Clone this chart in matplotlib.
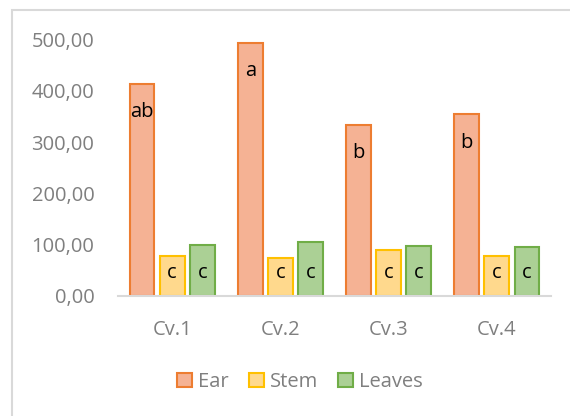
import numpy as np
import matplotlib
matplotlib.use("Agg")
import matplotlib.pyplot as plt
from matplotlib.patches import Rectangle

# data
cultivars = ["Cv.1", "Cv.2", "Cv.3", "Cv.4"]
series_names = ["Ear", "Stem", "Leaves"]
ear = [413, 494, 333, 354]
stem = [77, 75, 90, 77]
leaves = [100, 106, 98, 95]
ear_letters = ["ab", "a", "b", "b"]
stem_letters = ["c", "c", "c", "c"]
leaves_letters = ["c", "c", "c", "c"]
y_ticks = [0, 100, 200, 300, 400, 500]

fills = ["#F5B294", "#FFD98D", "#ABD095"]
edges = ["#ED7D31", "#FFC000", "#70AD47"]
grey = "#7F7F7F"

plt.rcParams["font.family"] = ["Open Sans", "DejaVu Sans"]

W, H = 570, 416
fig = plt.figure(figsize=(W / 100, H / 100), dpi=100)

# chart area border
fig.patches.append(Rectangle((12 / W, -0.1), 1.2, 1.1 - 10 / H,
                             transform=fig.transFigure, fill=False,
                             edgecolor="#D9D9D9", linewidth=1.5))

ax = fig.add_axes([118 / W, (H - 296) / H, 433 / W, 256.5 / H])

x = np.arange(len(cultivars))
width = 0.23
pitch = 0.278
all_vals = [ear, stem, leaves]
all_letters = [ear_letters, stem_letters, leaves_letters]
for i, (vals, letters) in enumerate(zip(all_vals, all_letters)):
    pos = x + (i - 1) * pitch
    ax.bar(pos, vals, width, color=fills[i], edgecolor=edges[i],
           linewidth=1.5, label=series_names[i], zorder=2)
    for p, v, t in zip(pos, vals, letters):
        y = v - 55 if i == 0 else 45
        ax.text(p, y, t, ha="center", va="center", fontsize=14.5, color="black", zorder=3)

ax.set_xlim(-0.5, len(cultivars) - 0.5)
ax.set_ylim(0, 500)
ax.set_yticks(y_ticks)
ax.set_yticklabels([f"{v:.2f}".replace(".", ",") for v in y_ticks])
ax.set_xticks(x)
ax.set_xticklabels(cultivars)
ax.tick_params(axis="both", length=0, labelsize=14.5, colors=grey)
ax.tick_params(axis="x", pad=17)
ax.tick_params(axis="y", pad=17)
for s in ["top", "right", "left"]:
    ax.spines[s].set_visible(False)
ax.spines["bottom"].set_color("#D9D9D9")
ax.spines["bottom"].set_linewidth(1.5)

leg = fig.legend(loc="center", bbox_to_anchor=(300 / W, (H - 382) / H), ncol=3,
                 frameon=False, fontsize=14.5, handlelength=0.75, handleheight=0.75,
                 handletextpad=0.3, columnspacing=1.0)
for t in leg.get_texts():
    t.set_color(grey)

fig.savefig("out.png", dpi=100)
